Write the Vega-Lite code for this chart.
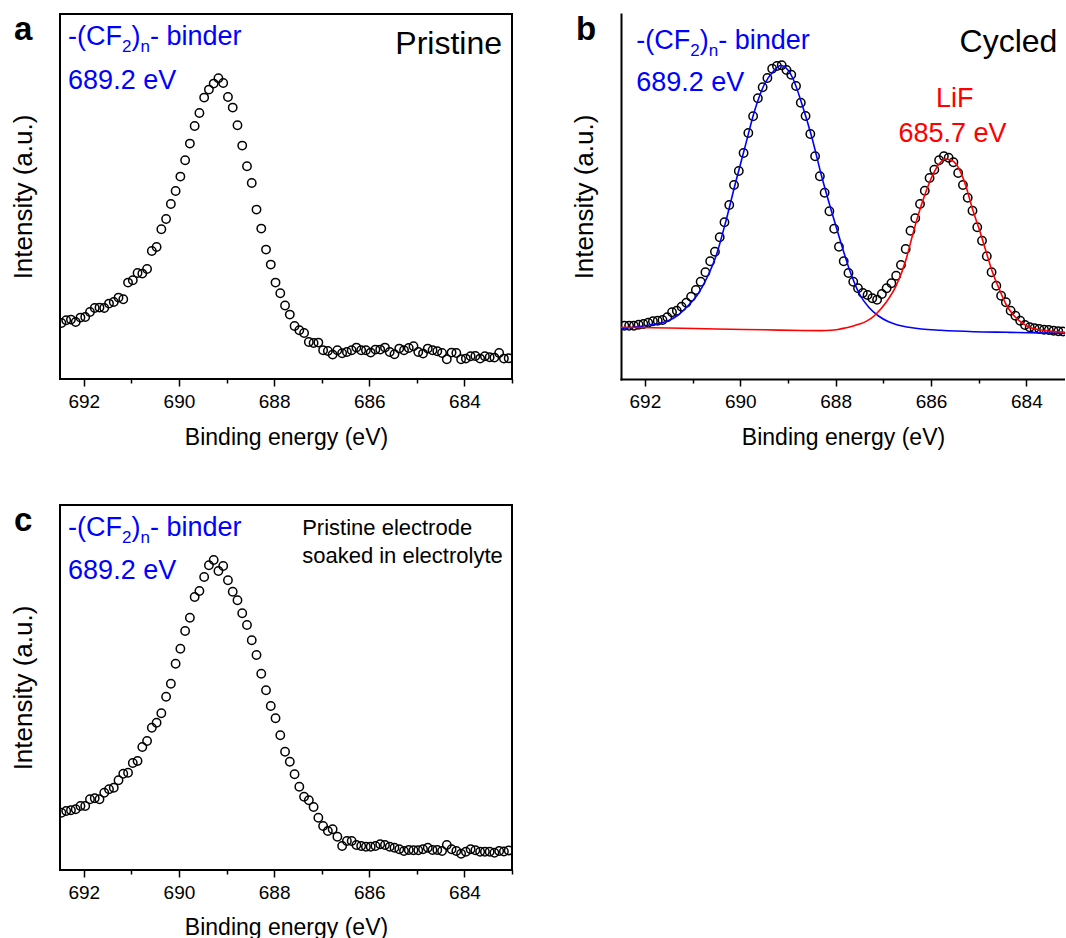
{
  "$schema": "https://vega.github.io/schema/vega-lite/v6.json",
  "background": "white",
  "padding": {"left": 9, "top": 13, "right": 0, "bottom": 0},
  "config": {
    "font": "Liberation Sans",
    "view": {"stroke": "#000", "strokeWidth": 2},
    "axis": {
      "grid": false,
      "domainColor": "#000",
      "domainWidth": 2,
      "domainCap": "square",
      "tickColor": "#000",
      "tickWidth": 1.5,
      "labelColor": "#000",
      "titleColor": "#000",
      "labelFont": "Liberation Sans",
      "titleFont": "Liberation Sans",
      "titleFontWeight": "normal",
      "labelFontSize": 19
    },
    "axisX": {"domain": false, "labelPadding": 6, "titleFontSize": 23, "titlePadding": 15, "labelFlush": false, "labelOverlap": false},
    "axisY": {"domain": false, "ticks": false, "labels": false, "titleFontSize": 26, "titlePadding": 24},
    "title": {"anchor": "start", "frame": "bounds", "fontSize": 33, "fontWeight": "bold", "color": "#000", "offset": -33, "font": "Liberation Sans"},
    "text": {"font": "Liberation Sans"}
  },
  "datasets": {
    "spectrumA": [
      {"E": 692.47, "I": 56.0}, {"E": 692.37, "I": 58.7}, {"E": 692.27, "I": 59.4}, {"E": 692.17, "I": 57.0}, {"E": 692.07, "I": 61.4},
      {"E": 691.97, "I": 62.0}, {"E": 691.87, "I": 67.0}, {"E": 691.77, "I": 71.0}, {"E": 691.67, "I": 71.4}, {"E": 691.57, "I": 71.0},
      {"E": 691.47, "I": 75.4}, {"E": 691.37, "I": 77.0}, {"E": 691.27, "I": 81.4}, {"E": 691.17, "I": 79.7}, {"E": 691.07, "I": 96.4},
      {"E": 690.97, "I": 98.7}, {"E": 690.87, "I": 106.0}, {"E": 690.77, "I": 105.4}, {"E": 690.67, "I": 110.0}, {"E": 690.57, "I": 128.0},
      {"E": 690.47, "I": 132.0}, {"E": 690.37, "I": 149.7}, {"E": 690.27, "I": 160.0}, {"E": 690.17, "I": 175.0}, {"E": 690.07, "I": 188.0},
      {"E": 689.97, "I": 202.4}, {"E": 689.87, "I": 218.7}, {"E": 689.77, "I": 235.4}, {"E": 689.67, "I": 253.0}, {"E": 689.57, "I": 266.0},
      {"E": 689.47, "I": 281.4}, {"E": 689.37, "I": 289.4}, {"E": 689.27, "I": 295.4}, {"E": 689.17, "I": 300.7}, {"E": 689.07, "I": 296.0},
      {"E": 688.97, "I": 282.0}, {"E": 688.87, "I": 271.4}, {"E": 688.77, "I": 253.7}, {"E": 688.67, "I": 233.4}, {"E": 688.57, "I": 212.7},
      {"E": 688.47, "I": 196.0}, {"E": 688.37, "I": 169.4}, {"E": 688.27, "I": 150.4}, {"E": 688.17, "I": 129.4}, {"E": 688.07, "I": 114.4},
      {"E": 687.97, "I": 96.4}, {"E": 687.87, "I": 85.7}, {"E": 687.77, "I": 73.5}, {"E": 687.67, "I": 64.4}, {"E": 687.57, "I": 53.0},
      {"E": 687.47, "I": 48.7}, {"E": 687.37, "I": 46.0}, {"E": 687.27, "I": 37.0}, {"E": 687.17, "I": 36.0}, {"E": 687.07, "I": 36.4},
      {"E": 686.97, "I": 28.7}, {"E": 686.87, "I": 28.0}, {"E": 686.77, "I": 24.4}, {"E": 686.67, "I": 28.7}, {"E": 686.57, "I": 25.7},
      {"E": 686.47, "I": 27.0}, {"E": 686.37, "I": 28.7}, {"E": 686.27, "I": 31.4}, {"E": 686.17, "I": 28.7}, {"E": 686.07, "I": 28.7},
      {"E": 685.97, "I": 26.4}, {"E": 685.87, "I": 29.4}, {"E": 685.77, "I": 29.4}, {"E": 685.67, "I": 31.4}, {"E": 685.57, "I": 27.0},
      {"E": 685.47, "I": 24.7}, {"E": 685.37, "I": 30.4}, {"E": 685.27, "I": 28.7}, {"E": 685.17, "I": 31.0}, {"E": 685.07, "I": 32.7},
      {"E": 684.97, "I": 27.0}, {"E": 684.87, "I": 25.4}, {"E": 684.77, "I": 30.4}, {"E": 684.67, "I": 28.7}, {"E": 684.57, "I": 27.7},
      {"E": 684.47, "I": 26.0}, {"E": 684.37, "I": 19.7}, {"E": 684.27, "I": 26.4}, {"E": 684.17, "I": 26.0}, {"E": 684.07, "I": 19.7},
      {"E": 683.97, "I": 20.4}, {"E": 683.87, "I": 22.7}, {"E": 683.77, "I": 23.0}, {"E": 683.67, "I": 20.4}, {"E": 683.57, "I": 22.7},
      {"E": 683.47, "I": 21.7}, {"E": 683.37, "I": 21.4}, {"E": 683.27, "I": 26.0}, {"E": 683.17, "I": 20.4}, {"E": 683.07, "I": 20.7}
    ],
    "spectrumB": [
      {"E": 692.43, "I": 53.3}, {"E": 692.33, "I": 53.3}, {"E": 692.23, "I": 53.3}, {"E": 692.13, "I": 54.3}, {"E": 692.03, "I": 55.0},
      {"E": 691.93, "I": 56.3}, {"E": 691.83, "I": 57.7}, {"E": 691.73, "I": 58.3}, {"E": 691.63, "I": 59.0}, {"E": 691.53, "I": 61.7},
      {"E": 691.43, "I": 66.7}, {"E": 691.33, "I": 68.3}, {"E": 691.23, "I": 72.3}, {"E": 691.13, "I": 76.3}, {"E": 691.03, "I": 82.3},
      {"E": 690.93, "I": 89.0}, {"E": 690.83, "I": 97.3}, {"E": 690.73, "I": 106.7}, {"E": 690.63, "I": 117.7}, {"E": 690.53, "I": 127.3},
      {"E": 690.43, "I": 141.7}, {"E": 690.33, "I": 156.7}, {"E": 690.23, "I": 174.0}, {"E": 690.13, "I": 194.0}, {"E": 690.03, "I": 208.0},
      {"E": 689.93, "I": 226.0}, {"E": 689.83, "I": 246.0}, {"E": 689.73, "I": 262.7}, {"E": 689.63, "I": 280.7}, {"E": 689.53, "I": 291.7},
      {"E": 689.43, "I": 301.0}, {"E": 689.33, "I": 310.3}, {"E": 689.23, "I": 313.0}, {"E": 689.13, "I": 313.7}, {"E": 689.03, "I": 309.0},
      {"E": 688.93, "I": 304.3}, {"E": 688.83, "I": 293.0}, {"E": 688.73, "I": 276.3}, {"E": 688.63, "I": 263.0}, {"E": 688.53, "I": 245.0},
      {"E": 688.43, "I": 222.7}, {"E": 688.33, "I": 202.7}, {"E": 688.23, "I": 186.3}, {"E": 688.13, "I": 167.7}, {"E": 688.03, "I": 150.3},
      {"E": 687.93, "I": 132.3}, {"E": 687.83, "I": 117.7}, {"E": 687.73, "I": 106.0}, {"E": 687.63, "I": 97.3}, {"E": 687.53, "I": 90.7},
      {"E": 687.43, "I": 86.0}, {"E": 687.33, "I": 84.0}, {"E": 687.23, "I": 80.7}, {"E": 687.13, "I": 79.3}, {"E": 687.03, "I": 85.0},
      {"E": 686.93, "I": 90.7}, {"E": 686.83, "I": 95.7}, {"E": 686.73, "I": 103.3}, {"E": 686.63, "I": 114.0}, {"E": 686.53, "I": 130.0},
      {"E": 686.43, "I": 148.3}, {"E": 686.33, "I": 160.7}, {"E": 686.23, "I": 175.0}, {"E": 686.13, "I": 188.3}, {"E": 686.03, "I": 201.0},
      {"E": 685.93, "I": 209.3}, {"E": 685.83, "I": 218.7}, {"E": 685.73, "I": 222.7}, {"E": 685.63, "I": 221.3}, {"E": 685.53, "I": 216.7},
      {"E": 685.43, "I": 206.0}, {"E": 685.33, "I": 194.0}, {"E": 685.23, "I": 181.3}, {"E": 685.13, "I": 168.3}, {"E": 685.03, "I": 151.7},
      {"E": 684.93, "I": 138.3}, {"E": 684.83, "I": 122.7}, {"E": 684.73, "I": 106.7}, {"E": 684.63, "I": 93.3}, {"E": 684.53, "I": 83.3},
      {"E": 684.43, "I": 76.7}, {"E": 684.33, "I": 68.3}, {"E": 684.23, "I": 63.3}, {"E": 684.13, "I": 58.3}, {"E": 684.03, "I": 54.0},
      {"E": 683.93, "I": 51.7}, {"E": 683.83, "I": 50.7}, {"E": 683.73, "I": 50.0}, {"E": 683.63, "I": 49.3}, {"E": 683.53, "I": 49.0},
      {"E": 683.43, "I": 48.3}, {"E": 683.33, "I": 47.7}, {"E": 683.23, "I": 47.5}
    ],
    "fitBinder": [
      {"E": 692.5, "I": 50.5}, {"E": 692.3, "I": 51.5}, {"E": 692.1, "I": 52.5}, {"E": 691.9, "I": 54}, {"E": 691.7, "I": 55.5},
      {"E": 691.5, "I": 58.5}, {"E": 691.3, "I": 64}, {"E": 691.1, "I": 73}, {"E": 690.9, "I": 84}, {"E": 690.7, "I": 101},
      {"E": 690.5, "I": 124}, {"E": 690.3, "I": 158}, {"E": 690.1, "I": 196}, {"E": 689.9, "I": 232}, {"E": 689.7, "I": 268},
      {"E": 689.5, "I": 294}, {"E": 689.3, "I": 308}, {"E": 689.15, "I": 313.5}, {"E": 689.0, "I": 309}, {"E": 688.9, "I": 301},
      {"E": 688.7, "I": 274}, {"E": 688.5, "I": 242}, {"E": 688.3, "I": 204}, {"E": 688.1, "I": 170}, {"E": 687.9, "I": 138},
      {"E": 687.7, "I": 108}, {"E": 687.5, "I": 85}, {"E": 687.3, "I": 71.5}, {"E": 687.1, "I": 63}, {"E": 686.9, "I": 57.5},
      {"E": 686.7, "I": 54}, {"E": 686.5, "I": 52}, {"E": 686.2, "I": 50}, {"E": 685.8, "I": 48.7}, {"E": 685.1, "I": 47.3},
      {"E": 684.4, "I": 46.7}, {"E": 683.0, "I": 45.5}
    ],
    "fitLiF": [
      {"E": 692.5, "I": 51.7}, {"E": 691.5, "I": 51.0}, {"E": 690.5, "I": 50.0}, {"E": 689.5, "I": 49.2}, {"E": 688.7, "I": 48.5},
      {"E": 688.3, "I": 48.4}, {"E": 688.1, "I": 48.7}, {"E": 687.95, "I": 49.5}, {"E": 687.8, "I": 51.0}, {"E": 687.65, "I": 52.8},
      {"E": 687.5, "I": 54.9}, {"E": 687.36, "I": 57.6}, {"E": 687.25, "I": 60.8}, {"E": 687.15, "I": 65.0}, {"E": 686.94, "I": 76.7},
      {"E": 686.73, "I": 93.3}, {"E": 686.52, "I": 120.0}, {"E": 686.39, "I": 143.3}, {"E": 686.25, "I": 166.7}, {"E": 686.11, "I": 186.7},
      {"E": 685.97, "I": 203.3}, {"E": 685.83, "I": 215.0}, {"E": 685.69, "I": 220.0}, {"E": 685.55, "I": 218.3}, {"E": 685.41, "I": 210.0},
      {"E": 685.27, "I": 193.3}, {"E": 685.13, "I": 170.0}, {"E": 684.99, "I": 150.0}, {"E": 684.85, "I": 128.3}, {"E": 684.71, "I": 106.7},
      {"E": 684.57, "I": 90.0}, {"E": 684.43, "I": 75.0}, {"E": 684.29, "I": 65.0}, {"E": 684.15, "I": 58.3}, {"E": 683.94, "I": 51.7},
      {"E": 683.73, "I": 49.3}, {"E": 683.18, "I": 46.7}, {"E": 683.0, "I": 46.0}
    ],
    "spectrumC": [
      {"E": 692.47, "I": 57.3}, {"E": 692.37, "I": 59.0}, {"E": 692.27, "I": 59.7}, {"E": 692.17, "I": 60.7}, {"E": 692.07, "I": 64.0},
      {"E": 691.97, "I": 64.0}, {"E": 691.87, "I": 70.7}, {"E": 691.77, "I": 71.7}, {"E": 691.67, "I": 70.7}, {"E": 691.57, "I": 77.3},
      {"E": 691.47, "I": 80.7}, {"E": 691.37, "I": 82.3}, {"E": 691.27, "I": 89.7}, {"E": 691.17, "I": 96.3}, {"E": 691.07, "I": 97.3},
      {"E": 690.97, "I": 107.0}, {"E": 690.87, "I": 109.0}, {"E": 690.77, "I": 123.0}, {"E": 690.67, "I": 129.0}, {"E": 690.57, "I": 142.3},
      {"E": 690.47, "I": 147.3}, {"E": 690.37, "I": 156.7}, {"E": 690.27, "I": 173.3}, {"E": 690.17, "I": 186.3}, {"E": 690.07, "I": 206.3},
      {"E": 689.97, "I": 221.3}, {"E": 689.87, "I": 239.0}, {"E": 689.77, "I": 252.3}, {"E": 689.67, "I": 273.0}, {"E": 689.57, "I": 279.0},
      {"E": 689.47, "I": 293.0}, {"E": 689.37, "I": 304.7}, {"E": 689.27, "I": 310.0}, {"E": 689.17, "I": 299.0}, {"E": 689.07, "I": 304.0},
      {"E": 688.97, "I": 289.7}, {"E": 688.87, "I": 278.3}, {"E": 688.77, "I": 269.7}, {"E": 688.67, "I": 256.7}, {"E": 688.57, "I": 245.0},
      {"E": 688.47, "I": 229.7}, {"E": 688.37, "I": 215.0}, {"E": 688.27, "I": 196.3}, {"E": 688.17, "I": 179.7}, {"E": 688.07, "I": 164.0},
      {"E": 687.97, "I": 151.7}, {"E": 687.87, "I": 134.7}, {"E": 687.77, "I": 118.3}, {"E": 687.67, "I": 108.3}, {"E": 687.57, "I": 95.7},
      {"E": 687.47, "I": 83.3}, {"E": 687.37, "I": 73.3}, {"E": 687.27, "I": 69.7}, {"E": 687.17, "I": 63.0}, {"E": 687.07, "I": 52.3},
      {"E": 686.97, "I": 44.0}, {"E": 686.87, "I": 39.0}, {"E": 686.77, "I": 40.7}, {"E": 686.67, "I": 33.3}, {"E": 686.57, "I": 24.0},
      {"E": 686.47, "I": 29.0}, {"E": 686.37, "I": 29.0}, {"E": 686.27, "I": 25.0}, {"E": 686.17, "I": 24.0}, {"E": 686.07, "I": 23.3},
      {"E": 685.97, "I": 23.3}, {"E": 685.87, "I": 24.0}, {"E": 685.77, "I": 25.7}, {"E": 685.67, "I": 25.0}, {"E": 685.57, "I": 23.3},
      {"E": 685.47, "I": 22.3}, {"E": 685.37, "I": 20.7}, {"E": 685.27, "I": 19.0}, {"E": 685.17, "I": 20.0}, {"E": 685.07, "I": 19.7},
      {"E": 684.97, "I": 19.7}, {"E": 684.87, "I": 20.7}, {"E": 684.77, "I": 22.3}, {"E": 684.67, "I": 20.0}, {"E": 684.57, "I": 20.0},
      {"E": 684.47, "I": 19.0}, {"E": 684.37, "I": 25.0}, {"E": 684.27, "I": 20.7}, {"E": 684.17, "I": 19.0}, {"E": 684.07, "I": 16.3},
      {"E": 683.97, "I": 18.3}, {"E": 683.87, "I": 20.7}, {"E": 683.77, "I": 19.7}, {"E": 683.67, "I": 18.3}, {"E": 683.57, "I": 18.3},
      {"E": 683.47, "I": 18.3}, {"E": 683.37, "I": 17.3}, {"E": 683.27, "I": 19.0}, {"E": 683.17, "I": 18.5}, {"E": 683.07, "I": 19.5}
    ],
    "formulaA": [
      {"E": 692.33, "I": 333.7, "part": "main1", "label": "-(CF"},
      {"E": 692.33, "I": 333.7, "part": "sub1", "label": "2"},
      {"E": 692.33, "I": 333.7, "part": "main2", "label": ")"},
      {"E": 692.33, "I": 333.7, "part": "sub2", "label": "n"},
      {"E": 692.33, "I": 333.7, "part": "main3", "label": "- binder"}
    ],
    "formulaB": [
      {"E": 692.18, "I": 330.0, "part": "main1", "label": "-(CF"},
      {"E": 692.18, "I": 330.0, "part": "sub1", "label": "2"},
      {"E": 692.18, "I": 330.0, "part": "main2", "label": ")"},
      {"E": 692.18, "I": 330.0, "part": "sub2", "label": "n"},
      {"E": 692.18, "I": 330.0, "part": "main3", "label": "- binder"}
    ],
    "formulaC": [
      {"E": 692.33, "I": 334.0, "part": "main1", "label": "-(CF"},
      {"E": 692.33, "I": 334.0, "part": "sub1", "label": "2"},
      {"E": 692.33, "I": 334.0, "part": "main2", "label": ")"},
      {"E": 692.33, "I": 334.0, "part": "sub2", "label": "n"},
      {"E": 692.33, "I": 334.0, "part": "main3", "label": "- binder"}
    ],
    "peakA": [{"E": 692.33, "I": 290.4, "label": "689.2 eV"}],
    "sampleA": [{"E": 683.21, "I": 325.4, "label": "Pristine"}],
    "peakB": [{"E": 692.18, "I": 288.3, "label": "689.2 eV"}],
    "sampleB": [{"E": 683.35, "I": 327.0, "label": "Cycled"}],
    "lifB": [
      {"E": 685.5, "I": 272.0, "label": "LiF"},
      {"E": 685.55, "I": 237.0, "label": "685.7 eV"}
    ],
    "peakC": [{"E": 692.33, "I": 290.7, "label": "689.2 eV"}],
    "sampleC": [
      {"E": 687.41, "I": 335.0, "label": "Pristine electrode"},
      {"E": 687.41, "I": 307.3, "label": "soaked in electrolyte"}
    ]
  },
  "spacing": 54,
  "vconcat": [
    {
      "spacing": 57,
      "hconcat": [
        {
          "width": 452,
          "height": 365,
          "title": {"text": "a", "dx": 4},
          "encoding": {
            "x": {
              "field": "E", "type": "quantitative",
              "scale": {"domain": [692.5, 683], "nice": false, "zero": false},
              "axis": {
                "title": "Binding energy (eV)",
                "values": [692, 691, 690, 689, 688, 687, 686, 685, 684, 683],
                "labelExpr": "datum.value % 2 === 0 ? datum.label : ''",
                "tickSize": {"condition": {"test": "datum.value % 2 !== 0", "value": 4}, "value": 7}
              }
            },
            "y": {
              "field": "I", "type": "quantitative",
              "scale": {"domain": [0, 365], "nice": false, "zero": false},
              "axis": {"title": "Intensity (a.u.)"}
            }
          },
          "layer": [
            {
              "data": {"name": "spectrumA"},
              "mark": {"type": "point", "shape": "circle", "filled": false, "color": "#000", "strokeWidth": 1.5, "size": 70, "opacity": 1, "clip": true}
            },
            {"data": {"name": "formulaA"}, "transform": [{"filter": "datum.part === 'main1'"}], "mark": {"type": "text", "align": "left", "baseline": "alphabetic", "fontSize": 27, "color": "#0000ff"}, "encoding": {"text": {"field": "label"}}},
            {"data": {"name": "formulaA"}, "transform": [{"filter": "datum.part === 'sub1'"}], "mark": {"type": "text", "align": "left", "baseline": "alphabetic", "fontSize": 17, "dx": 54, "dy": 7, "color": "#0000ff"}, "encoding": {"text": {"field": "label"}}},
            {"data": {"name": "formulaA"}, "transform": [{"filter": "datum.part === 'main2'"}], "mark": {"type": "text", "align": "left", "baseline": "alphabetic", "fontSize": 27, "dx": 63.4, "color": "#0000ff"}, "encoding": {"text": {"field": "label"}}},
            {"data": {"name": "formulaA"}, "transform": [{"filter": "datum.part === 'sub2'"}], "mark": {"type": "text", "align": "left", "baseline": "alphabetic", "fontSize": 17, "dx": 72.4, "dy": 7, "color": "#0000ff"}, "encoding": {"text": {"field": "label"}}},
            {"data": {"name": "formulaA"}, "transform": [{"filter": "datum.part === 'main3'"}], "mark": {"type": "text", "align": "left", "baseline": "alphabetic", "fontSize": 27, "dx": 81.9, "color": "#0000ff"}, "encoding": {"text": {"field": "label"}}},
            {
              "data": {"name": "peakA"},
              "mark": {"type": "text", "align": "left", "baseline": "alphabetic", "fontSize": 27, "color": "#0000ff"},
              "encoding": {"text": {"field": "label"}}
            },
            {
              "data": {"name": "sampleA"},
              "mark": {"type": "text", "align": "right", "baseline": "alphabetic", "fontSize": 32, "color": "#000"},
              "encoding": {"text": {"field": "label"}}
            }
          ]
        },
        {
          "width": 444,
          "height": 365,
          "view": {"stroke": null},
          "title": {"text": "b", "dx": 5},
          "encoding": {
            "x": {
              "field": "E", "type": "quantitative",
              "scale": {"domain": [692.5, 683.19], "nice": false, "zero": false},
              "axis": {
                "domain": true,
                "title": "Binding energy (eV)",
                "values": [692, 691, 690, 689, 688, 687, 686, 685, 684],
                "labelExpr": "datum.value % 2 === 0 ? datum.label : ''",
                "tickSize": {"condition": {"test": "datum.value % 2 !== 0", "value": 4}, "value": 7}
              }
            },
            "y": {
              "field": "I", "type": "quantitative",
              "scale": {"domain": [0, 365], "nice": false, "zero": false},
              "axis": {"title": "Intensity (a.u.)", "domain": true}
            }
          },
          "layer": [
            {
              "data": {"values": [{}]},
              "mark": {"type": "rule", "color": "#000", "strokeWidth": 2, "strokeCap": "square"},
              "encoding": {
                "x": {"datum": 692.5, "type": "quantitative", "scale": {"domain": [692.5, 683.19], "nice": false, "zero": false}},
                "x2": {"datum": 683.19},
                "y": {"datum": 365, "type": "quantitative", "scale": {"domain": [0, 365], "nice": false, "zero": false}}
              }
            },
            {
              "data": {"name": "spectrumB"},
              "mark": {"type": "point", "shape": "circle", "filled": false, "color": "#000", "strokeWidth": 1.5, "size": 70, "opacity": 1, "clip": true}
            },
            {
              "data": {"name": "fitBinder"},
              "mark": {"type": "line", "color": "#0000ff", "strokeWidth": 1.6, "interpolate": "monotone", "clip": true}
            },
            {
              "data": {"name": "fitLiF"},
              "mark": {"type": "line", "color": "#ff0000", "strokeWidth": 1.6, "interpolate": "monotone", "clip": true}
            },
            {"data": {"name": "formulaB"}, "transform": [{"filter": "datum.part === 'main1'"}], "mark": {"type": "text", "align": "left", "baseline": "alphabetic", "fontSize": 27, "color": "#0000ff"}, "encoding": {"text": {"field": "label"}}},
            {"data": {"name": "formulaB"}, "transform": [{"filter": "datum.part === 'sub1'"}], "mark": {"type": "text", "align": "left", "baseline": "alphabetic", "fontSize": 17, "dx": 54, "dy": 7, "color": "#0000ff"}, "encoding": {"text": {"field": "label"}}},
            {"data": {"name": "formulaB"}, "transform": [{"filter": "datum.part === 'main2'"}], "mark": {"type": "text", "align": "left", "baseline": "alphabetic", "fontSize": 27, "dx": 63.4, "color": "#0000ff"}, "encoding": {"text": {"field": "label"}}},
            {"data": {"name": "formulaB"}, "transform": [{"filter": "datum.part === 'sub2'"}], "mark": {"type": "text", "align": "left", "baseline": "alphabetic", "fontSize": 17, "dx": 72.4, "dy": 7, "color": "#0000ff"}, "encoding": {"text": {"field": "label"}}},
            {"data": {"name": "formulaB"}, "transform": [{"filter": "datum.part === 'main3'"}], "mark": {"type": "text", "align": "left", "baseline": "alphabetic", "fontSize": 27, "dx": 81.9, "color": "#0000ff"}, "encoding": {"text": {"field": "label"}}},
            {
              "data": {"name": "peakB"},
              "mark": {"type": "text", "align": "left", "baseline": "alphabetic", "fontSize": 27, "color": "#0000ff"},
              "encoding": {"text": {"field": "label"}}
            },
            {
              "data": {"name": "sampleB"},
              "mark": {"type": "text", "align": "right", "baseline": "alphabetic", "fontSize": 32, "color": "#000"},
              "encoding": {"text": {"field": "label"}}
            },
            {
              "data": {"name": "lifB"},
              "mark": {"type": "text", "align": "center", "baseline": "alphabetic", "fontSize": 27, "color": "#ff0000"},
              "encoding": {"text": {"field": "label"}}
            }
          ]
        }
      ]
    },
    {
      "width": 452,
      "height": 365,
      "title": {"text": "c", "dx": 4},
      "encoding": {
        "x": {
          "field": "E", "type": "quantitative",
          "scale": {"domain": [692.5, 683], "nice": false, "zero": false},
          "axis": {
            "title": "Binding energy (eV)",
            "titlePadding": 14,
            "values": [692, 691, 690, 689, 688, 687, 686, 685, 684, 683],
            "labelExpr": "datum.value % 2 === 0 ? datum.label : ''",
            "tickSize": {"condition": {"test": "datum.value % 2 !== 0", "value": 4}, "value": 7}
          }
        },
        "y": {
          "field": "I", "type": "quantitative",
          "scale": {"domain": [0, 365], "nice": false, "zero": false},
          "axis": {"title": "Intensity (a.u.)"}
        }
      },
      "layer": [
        {
          "data": {"name": "spectrumC"},
          "mark": {"type": "point", "shape": "circle", "filled": false, "color": "#000", "strokeWidth": 1.5, "size": 70, "opacity": 1, "clip": true}
        },
        {"data": {"name": "formulaC"}, "transform": [{"filter": "datum.part === 'main1'"}], "mark": {"type": "text", "align": "left", "baseline": "alphabetic", "fontSize": 27, "color": "#0000ff"}, "encoding": {"text": {"field": "label"}}},
        {"data": {"name": "formulaC"}, "transform": [{"filter": "datum.part === 'sub1'"}], "mark": {"type": "text", "align": "left", "baseline": "alphabetic", "fontSize": 17, "dx": 54, "dy": 7, "color": "#0000ff"}, "encoding": {"text": {"field": "label"}}},
        {"data": {"name": "formulaC"}, "transform": [{"filter": "datum.part === 'main2'"}], "mark": {"type": "text", "align": "left", "baseline": "alphabetic", "fontSize": 27, "dx": 63.4, "color": "#0000ff"}, "encoding": {"text": {"field": "label"}}},
        {"data": {"name": "formulaC"}, "transform": [{"filter": "datum.part === 'sub2'"}], "mark": {"type": "text", "align": "left", "baseline": "alphabetic", "fontSize": 17, "dx": 72.4, "dy": 7, "color": "#0000ff"}, "encoding": {"text": {"field": "label"}}},
        {"data": {"name": "formulaC"}, "transform": [{"filter": "datum.part === 'main3'"}], "mark": {"type": "text", "align": "left", "baseline": "alphabetic", "fontSize": 27, "dx": 81.9, "color": "#0000ff"}, "encoding": {"text": {"field": "label"}}},
        {
          "data": {"name": "peakC"},
          "mark": {"type": "text", "align": "left", "baseline": "alphabetic", "fontSize": 27, "color": "#0000ff"},
          "encoding": {"text": {"field": "label"}}
        },
        {
          "data": {"name": "sampleC"},
          "mark": {"type": "text", "align": "left", "baseline": "alphabetic", "fontSize": 22, "color": "#000"},
          "encoding": {"text": {"field": "label"}}
        }
      ]
    }
  ]
}
